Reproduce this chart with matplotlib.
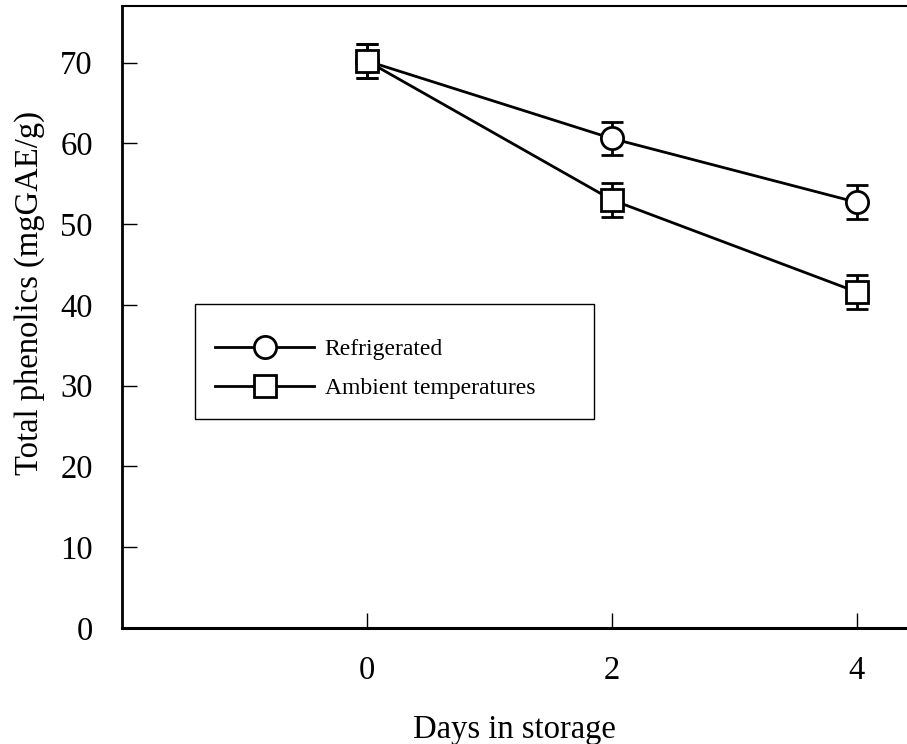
import matplotlib
matplotlib.use("Agg")
import matplotlib.pyplot as plt
from matplotlib.patches import Rectangle
from matplotlib.lines import Line2D

# values
days = [0, 2, 4]
refrigerated = [70.2, 60.6, 52.7]
refrigerated_err = [2.1, 2.1, 2.1]
ambient = [70.2, 53.0, 41.6]
ambient_err = [2.1, 2.1, 2.1]
x_ticks = [0, 2, 4]
y_ticks = [0, 10, 20, 30, 40, 50, 60, 70]

plt.rcParams['font.family'] = ['Liberation Serif', 'DejaVu Serif']

fig = plt.figure(figsize=(9.07, 7.44), dpi=100)
ax = fig.add_axes([122 / 907, 1 - 628 / 744, 1 - 122 / 907, 622 / 744])

mark = dict(color='black', lw=2, ms=16, mew=2, mfc='white', mec='black')
ax.errorbar(days, refrigerated, yerr=refrigerated_err, fmt='-o',
            capsize=8, capthick=2, elinewidth=2, **mark)
ax.errorbar(days, ambient, yerr=ambient_err, fmt='-s',
            capsize=8, capthick=2, elinewidth=2, **mark)

ax.set_xlim(-2.0, 4.41)
ax.set_ylim(0, 77)
ax.set_xticks(x_ticks)
ax.set_yticks(y_ticks)

ax.spines['right'].set_visible(False)
ax.spines['left'].set_linewidth(2)
ax.spines['bottom'].set_linewidth(2.2)
ax.spines['top'].set_linewidth(1.5)

ax.tick_params(axis='both', direction='in', length=11, width=1,
               labelsize=23.5)
ax.tick_params(axis='x', pad=20)
ax.tick_params(axis='y', pad=21)

ax.set_xlabel('Days in storage', fontsize=23.5, labelpad=20)
ax.set_ylabel('Total phenolics (mgGAE/g)', fontsize=23.5)
# label sits a little above the middle of the axis in the reference
ax.yaxis.set_label_coords(-0.098, 0.539)

# legend frame is drawn separately, it is much larger than its content
fig.patches.append(Rectangle((195 / 907, 1 - 419 / 744), 399 / 907, 115 / 744,
                             transform=fig.transFigure, fill=False,
                             edgecolor='black', lw=1))
handles = [Line2D([], [], marker='o', **mark),
           Line2D([], [], marker='s', **mark)]
ax.legend(handles, ['Refrigerated', 'Ambient temperatures'],
          loc='center left', bbox_to_anchor=(215 / 907, 1 - 369 / 744),
          bbox_transform=fig.transFigure, frameon=False, fontsize=17,
          borderpad=0, borderaxespad=0, handlelength=4.2, handletextpad=0.45,
          labelspacing=0.72)

fig.savefig('out.png', dpi=100)
